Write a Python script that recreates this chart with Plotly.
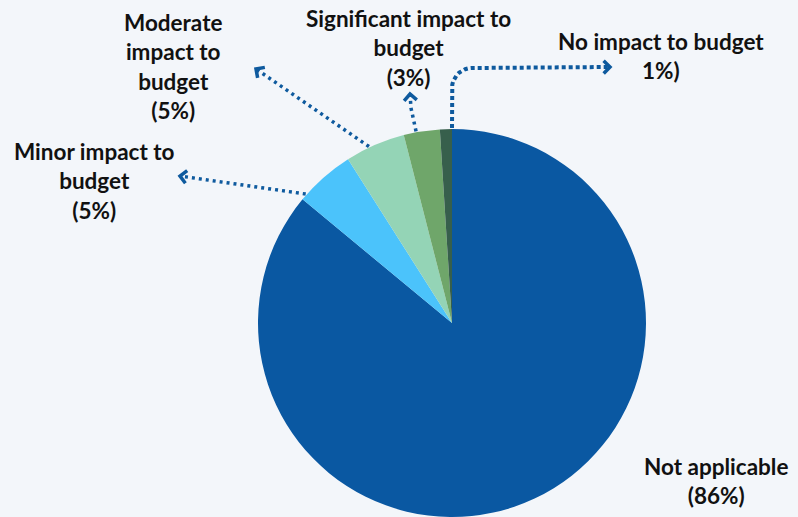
import math
import plotly.graph_objects as go

# ---- data ----
labels = ["Not applicable", "Minor impact to budget", "Moderate impact to budget",
          "Significant impact to budget", "No impact to budget"]
values = [86, 5, 5, 3, 1]
label_texts = ["Not applicable<br>(86%)",
               "Minor impact to<br>budget<br>(5%)",
               "Moderate<br>impact to<br>budget<br>(5%)",
               "Significant impact to<br>budget<br>(3%)",
               "No impact to budget<br>1%)"]
colors = ["#0a58a2", "#4bc3fb", "#94d4b6", "#6fa66a", "#375f4c"]

# ---- layout geometry (pixels) ----
W, H = 798, 517
CX, R = 452, 194
CY = H - R
BG = "#f3f6fa"
LEAD = "#0e5a9e"
FONT = "Lato"

fig = go.Figure()
fig.add_trace(go.Pie(
    labels=labels, values=values, sort=False, direction="clockwise", rotation=0,
    marker=dict(colors=colors, line=dict(width=0)),
    textinfo="none", hoverinfo="label+percent", showlegend=False,
    domain=dict(x=[(CX - R) / W, (CX + R) / W], y=[0, 2 * R / H]),
))

# angle helpers based on the data
total = sum(values)
cum = [0]
for v in values:
    cum.append(cum[-1] + v)

def edge_point(i, frac, r=R + 1):
    a = (cum[i] + frac * values[i]) / total * 2 * math.pi
    return CX + r * math.sin(a), CY - r * math.cos(a)

def chevron(tip, prev, size=9):
    dx, dy = tip[0] - prev[0], tip[1] - prev[1]
    L = math.hypot(dx, dy)
    ux, uy = dx / L, dy / L
    pts = []
    for s in (1, -1):
        ang = math.radians(45) * s
        bx = -ux * math.cos(ang) + uy * math.sin(ang)
        by = -uy * math.cos(ang) - ux * math.sin(ang)
        pts.append((tip[0] + size * bx, tip[1] + size * by))
    return [pts[0][0], tip[0], pts[1][0]], [pts[0][1], tip[1], pts[1][1]]

leaders = []
# Minor
s = edge_point(1, 0.1)
leaders.append(([s, (180, 176)], "3px,4px", 3.5))
# Moderate
s = edge_point(2, 0.4)
leaders.append(([s, (256, 69)], "3px,4px", 3.5))
# Significant
s = edge_point(3, 0.35)
leaders.append(([s, (411, 108), (410, 94)], "3px,4px", 3.5))
# No impact
s = edge_point(4, 1.0)
path = [s, (s[0], 88)]
rc = 20
for k in range(1, 10):
    t = math.pi - k * (math.pi / 2) / 9
    path.append((s[0] + rc + rc * math.cos(t), 88 - rc * math.sin(t)))
path.append((610, 67))
leaders.append((path, "4px,3px", 4))

for pts, dash, w in leaders:
    xs = [p[0] for p in pts]
    ys = [p[1] for p in pts]
    fig.add_trace(go.Scatter(x=xs, y=ys, mode="lines", xaxis="x", yaxis="y",
                             line=dict(color=LEAD, width=w, dash=dash),
                             hoverinfo="skip", showlegend=False))
    cx_, cy_ = chevron(pts[-1], pts[-2])
    fig.add_trace(go.Scatter(x=cx_, y=cy_, mode="lines", xaxis="x", yaxis="y",
                             line=dict(color=LEAD, width=3.5),
                             hoverinfo="skip", showlegend=False))

# label positions (pixel centres)
label_pos = [(716, 481), (94, 181), (173, 66), (408, 48), (661, 56)]
for txt, (x, y) in zip(label_texts, label_pos):
    fig.add_annotation(x=x, y=y, xref="x", yref="y", text=txt, showarrow=False,
                       font=dict(family=FONT, size=22.5, color="#111111", weight="bold"),
                       align="center", xanchor="center", yanchor="middle")

fig.update_layout(
    width=W, height=H, margin=dict(l=0, r=0, t=0, b=0),
    paper_bgcolor=BG, plot_bgcolor="rgba(0,0,0,0)",
    xaxis=dict(range=[0, W], visible=False, fixedrange=True, domain=[0, 1]),
    yaxis=dict(range=[H, 0], visible=False, fixedrange=True, domain=[0, 1]),
)

fig.write_html("out.html")
